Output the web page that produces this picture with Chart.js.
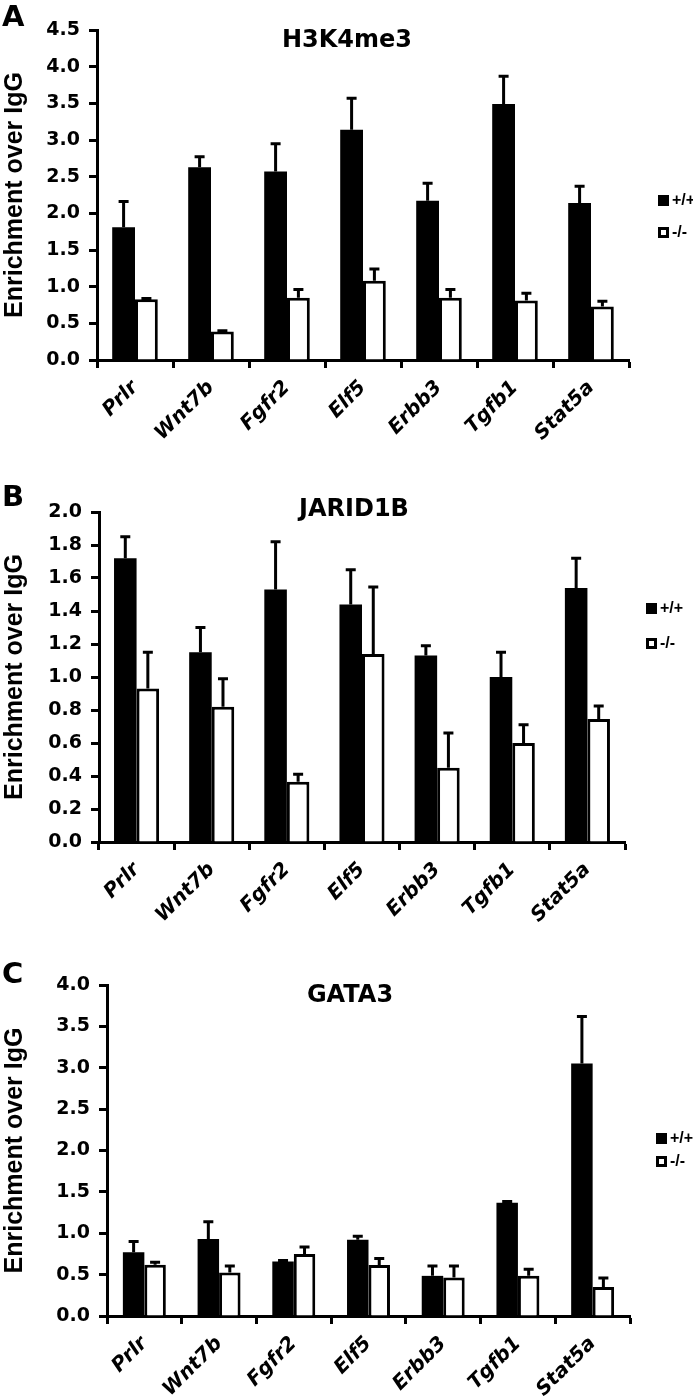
<!DOCTYPE html>
<html>
<head>
<meta charset="utf-8">
<script src="https://cdn.jsdelivr.net/npm/chart.js@4.4.1/dist/chart.umd.min.js"></script>
<style>
  body { margin: 0; background: #fff; }
  canvas { display: block; }
</style>
</head>
<body>
<canvas id="panelA" width="693" height="480"></canvas>
<canvas id="panelB" width="693" height="480"></canvas>
<canvas id="panelC" width="693" height="439"></canvas>
<script>
// genes and genotypes
const genes = ['Prlr', 'Wnt7b', 'Fgfr2', 'Elf5', 'Erbb3', 'Tgfb1', 'Stat5a'];
const genotypes = ['+/+', '-/-'];

// A - H3K4me3
const h3k4Wt = [1.81, 2.63, 2.57, 3.14, 2.17, 3.49, 2.14];
const h3k4WtErr = [0.35, 0.14, 0.38, 0.43, 0.24, 0.38, 0.23];
const h3k4Ko = [0.83, 0.39, 0.85, 1.08, 0.85, 0.81, 0.73];
const h3k4KoErr = [0.01, 0.01, 0.11, 0.16, 0.11, 0.10, 0.07];

// B - JARID1B
const jaridWt = [1.72, 1.15, 1.53, 1.44, 1.13, 1.00, 1.54];
const jaridWtErr = [0.13, 0.15, 0.29, 0.21, 0.06, 0.15, 0.18];
const jaridKo = [0.93, 0.82, 0.365, 1.14, 0.45, 0.60, 0.745];
const jaridKoErr = [0.22, 0.17, 0.045, 0.405, 0.21, 0.11, 0.08];

// C - GATA3
const gataWt = [0.77, 0.93, 0.66, 0.92, 0.485, 1.37, 3.05];
const gataWtErr = [0.13, 0.21, 0.01, 0.045, 0.12, 0.015, 0.57];
const gataKo = [0.62, 0.525, 0.75, 0.615, 0.465, 0.485, 0.35];
const gataKoErr = [0.03, 0.08, 0.085, 0.08, 0.14, 0.08, 0.11];

// y axis ranges
const h3k4Axis = { max: 4.5, step: 0.5 };
const jaridAxis = { max: 2.0, step: 0.2 };
const gataAxis = { max: 4.0, step: 0.5 };

// upward error bars only, with a cap
const errorBars = {
  id: 'errorBars',
  afterDatasetsDraw(chart, args, opts) {
    const ctx = chart.ctx;
    const y = chart.scales.y;
    ctx.save();
    ctx.strokeStyle = '#000';
    ctx.lineWidth = 3;
    chart.data.datasets.forEach((ds, i) => {
      const meta = chart.getDatasetMeta(i);
      meta.data.forEach((bar, j) => {
        const top = y.getPixelForValue(ds.data[j] + opts.errors[i][j]);
        ctx.beginPath();
        ctx.moveTo(bar.x, bar.y);
        ctx.lineTo(bar.x, top);
        ctx.moveTo(bar.x - 5, top);
        ctx.lineTo(bar.x + 5, top);
        ctx.stroke();
      });
    });
    ctx.restore();
  }
};

// panel letter, title and legend
const decor = {
  id: 'decor',
  afterDraw(chart, args, opts) {
    const ctx = chart.ctx;
    ctx.save();
    ctx.fillStyle = '#000';
    ctx.textBaseline = 'middle';
    ctx.font = 'bold 29px "DejaVu Sans"';
    ctx.textAlign = 'left';
    ctx.fillText(opts.letter, 2, opts.letterY);
    ctx.font = 'bold 24px "DejaVu Sans"';
    ctx.textAlign = 'center';
    ctx.fillText(opts.title, opts.titleX, opts.titleY);

    ctx.font = 'bold 16px "Liberation Sans"';
    ctx.textAlign = 'left';
    genotypes.forEach((g, i) => {
      const cy = opts.legendY[i];
      if (i === 0) {
        ctx.fillRect(opts.legendX, cy - 5, 11, 11);
      } else {
        ctx.lineWidth = 3;
        ctx.strokeRect(opts.legendX + 1.5, cy - 3.5, 8, 8);
      }
      ctx.fillText(g, opts.legendX + 14, cy + 1);
    });
    ctx.restore();
  }
};

function makePanel(id, p) {
  const canvas = document.getElementById(id);
  return new Chart(canvas, {
    type: 'bar',
    data: {
      labels: genes,
      datasets: [
        { label: genotypes[0], data: p.wt, backgroundColor: '#000', borderColor: '#000', borderWidth: 0 },
        { label: genotypes[1], data: p.ko, backgroundColor: '#fff', borderColor: '#000', borderWidth: 3 }
      ]
    },
    options: {
      responsive: false,
      animation: false,
      layout: { padding: { left: 0, right: 693 - p.right, top: p.top, bottom: 0 } },
      datasets: { bar: { categoryPercentage: p.catPct, barPercentage: 1.0 } },
      scales: {
        x: {
          afterFit: s => { s.height = canvas.height - p.bottom; },
          grid: { offset: true, drawOnChartArea: false, tickLength: 8, tickWidth: 3, tickColor: '#000', color: '#000' },
          border: { color: '#000', width: 3 },
          ticks: {
            color: '#000', minRotation: 45, maxRotation: 45, padding: 8,
            font: { family: 'DejaVu Sans', size: 20, weight: 'bold', style: 'italic' }
          }
        },
        y: {
          min: 0, max: p.axis.max,
          afterFit: s => { s.width = p.left; },
          grid: { drawOnChartArea: false, tickLength: 8, tickWidth: 3, tickColor: '#000', color: '#000' },
          border: { color: '#000', width: 3 },
          ticks: {
            stepSize: p.axis.step, color: '#000', padding: 9,
            callback: v => v.toFixed(1),
            font: { family: 'DejaVu Sans', size: 19, weight: 'bold' }
          },
          title: {
            display: true, text: 'Enrichment over IgG', color: '#000', padding: { top: 0, bottom: 0 },
            font: { family: 'Liberation Sans', size: 25, weight: 'bold' }
          }
        }
      },
      plugins: {
        legend: { display: false },
        tooltip: { enabled: false },
        errorBars: { errors: p.errors },
        decor: p.decor
      }
    },
    plugins: [errorBars, decor]
  });
}

makePanel('panelA', {
  wt: h3k4Wt, ko: h3k4Ko, errors: [h3k4WtErr, h3k4KoErr], axis: h3k4Axis,
  left: 97, right: 629, top: 30, bottom: 360, catPct: 0.6,
  decor: { letter: 'A', letterY: 18, title: 'H3K4me3', titleX: 347, titleY: 41, legendX: 658, legendY: [200, 232] }
});

makePanel('panelB', {
  wt: jaridWt, ko: jaridKo, errors: [jaridWtErr, jaridKoErr], axis: jaridAxis,
  left: 99, right: 625, top: 32, bottom: 362, catPct: 0.6,
  decor: { letter: 'B', letterY: 18, title: 'JARID1B', titleX: 354, titleY: 30, legendX: 646, legendY: [128, 163] }
});

makePanel('panelC', {
  wt: gataWt, ko: gataKo, errors: [gataWtErr, gataKoErr], axis: gataAxis,
  left: 107, right: 630, top: 25, bottom: 356, catPct: 0.575,
  decor: { letter: 'C', letterY: 15, title: 'GATA3', titleX: 350, titleY: 36, legendX: 656, legendY: [178, 201] }
});
</script>
</body>
</html>
